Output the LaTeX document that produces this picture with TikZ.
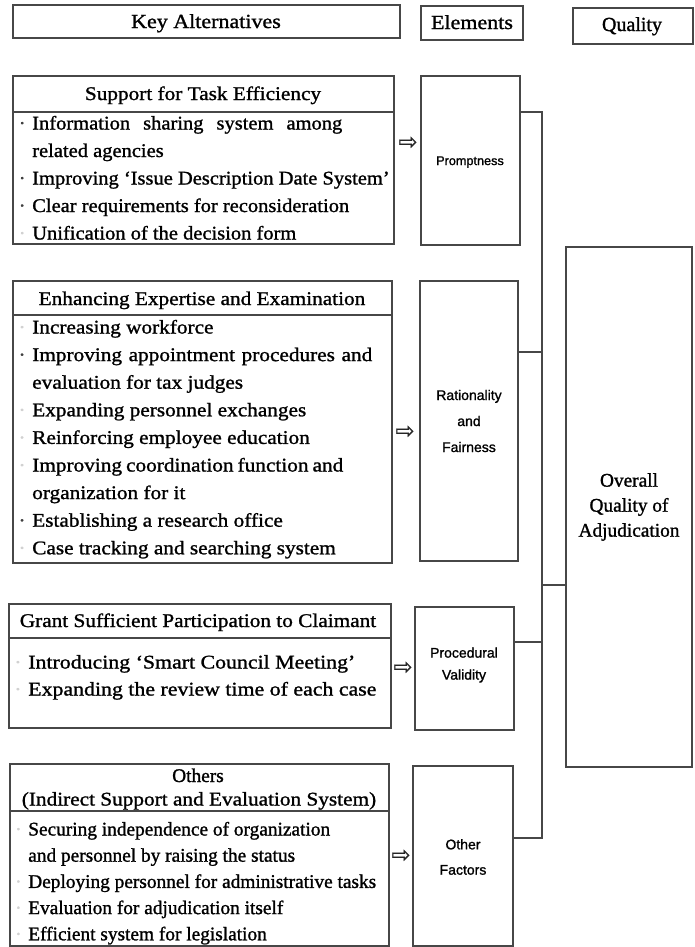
\documentclass[tikz,border=0pt]{standalone}
\usepackage{fontspec}
\setmainfont{Liberation Serif}[FakeBold=0.5]
\setsansfont{Liberation Sans}[FakeBold=0.5]
% serif faces of slightly different set widths
\newfontfamily\serN{Liberation Serif}[FakeBold=1.2,Ligatures=TeX]
\newfontfamily\serA{Liberation Serif}[FakeBold=1.2,FakeStretch=1.06,Ligatures=TeX]
\newfontfamily\serB{Liberation Serif}[FakeBold=1.2,FakeStretch=1.1,Ligatures=TeX]
\newfontfamily\serC{Liberation Serif}[FakeBold=1.2,FakeStretch=1.13,Ligatures=TeX]
\newfontfamily\heavysans{Liberation Sans}[FakeBold=1.2]
\newfontfamily\symfont{DejaVu Sans}[FakeBold=0.6]
\usetikzlibrary{fit}
% hanging bullets: dark and faint middle dots
\newcommand\bulD{\llap{\textcolor{black!75}{·}\hspace{5pt}}}
\newcommand\bulL{\llap{\textcolor{black!18}{·}\hspace{5pt}}}
% a line spread to a given width (in px of the picture)
\newcommand\spreadto[2]{\makebox[#1\dimexpr0.75pt\relax][s]{#2}}
\begin{document}
\begin{tikzpicture}[x=0.75pt,y=-0.75pt,
  box/.style={draw=black!72,line width=0.9pt,inner sep=0pt},
  hdr/.style={anchor=base,inner sep=0pt,font=#1\fontsize{15}{18}\selectfont},
  ttl/.style={anchor=base,inner sep=0pt,font=#1\fontsize{14.5}{17}\selectfont},
  item/.style={anchor=base west,inner sep=0pt,font=#1\fontsize{14.5}{17}\selectfont},
  elem/.style={align=center,inner sep=0pt,font=\heavysans\fontsize{10.5}{19.5}\selectfont},
  arr/.style={inner sep=0pt,font=\symfont\fontsize{17}{17}\selectfont,text=black!85},
  conn/.style={draw=black!72,line width=0.9pt}]
\useasboundingbox (0,0) rectangle (694,947);
\fill[white] (0,0) rectangle (694,947);

% column headers
\node[box,fit={(13,5) (400,38)}] (hk) {};
\node[hdr=\serB] (hkt) at (206,28) {Key Alternatives};
\node[box,fit={(421,6) (523,40)}] (he) {};
\node[hdr=\serB] (het) at (472,29) {Elements};
\node[box,fit={(573,8) (693,44)}] (hq) {};
\node[hdr=\serN] (hqt) at (632,31) {Quality};

% 1. support for task efficiency
\node[box,fit={(13,76) (394,244)}] (sup) {};
\node[ttl=\serB] (supt) at (203,100) {Support for Task Efficiency};
\draw[conn] (sup.west |- 0,112) -- (sup.east |- 0,112);
\foreach \t [count=\i] in {
  {\bulD\spreadto{310}{Information sharing system among}},
  {related agencies},
  {\bulD Improving `Issue Description Date System'},
  {\bulD Clear requirements for reconsideration},
  {\bulL Unification of the decision form}}
  \node[item=\serA] (s\i) at (32,{129.5+27.5*(\i-1)}) {\t};

% 2. expertise and examination
\node[box,fit={(13,281) (392,563)}] (exp) {};
\node[ttl=\serB] (expt) at (202,305) {Enhancing Expertise and Examination};
\draw[conn] (exp.west |- 0,315) -- (exp.east |- 0,315);
\foreach \t [count=\i] in {
  {\bulL Increasing workforce},
  {\bulD\spreadto{340}{Improving appointment procedures and}},
  {evaluation for tax judges},
  {\bulL Expanding personnel exchanges},
  {\bulL Reinforcing employee education},
  {\bulL\spreadto{311}{Improving coordination function and}},
  {organization for it},
  {\bulD Establishing a research office},
  {\bulL Case tracking and searching system}}
  \node[item=\serB] (e\i) at (32,{333.5+27.6*(\i-1)}) {\t};

% 3. participation of the claimant
\node[box,fit={(9,604) (391,728)}] (grt) {};
\node[ttl=\serB] (grtt) at (198,627) {Grant Sufficient Participation to Claimant};
\draw[conn] (grt.west |- 0,638) -- (grt.east |- 0,638);
\node[item=\serC] (g1) at (28,668.5) {\bulL Introducing `Smart Council Meeting'};
\node[item=\serC] (g2) at (28,695.5) {\bulL Expanding the review time of each case};

% 4. other measures
\node[box,fit={(10,764) (389,946)}] (oth) {};
\node[ttl=\serN] (otht1) at (198,782) {Others};
\node[ttl=\serB] (otht2) at (199,805.5) {(Indirect Support and Evaluation System)};
\draw[conn] (oth.west |- 0,811) -- (oth.east |- 0,811);
\foreach \t [count=\i] in {
  {\bulL Securing independence of organization},
  {and personnel by raising the status},
  {\bulL Deploying personnel for administrative tasks},
  {\bulL Evaluation for adjudication itself},
  {\bulL Efficient system for legislation}}
  \node[item=\serN] (o\i) at (28,{835.5+26.2*(\i-1)}) {\t};

% elements
\node[box,fit={(421,76) (520,245)}] (prom) {};
\node[elem,font=\heavysans\fontsize{9.5}{12}\selectfont] (promt) at (470,162) {Promptness};
\node[box,fit={(420,281) (518,561)}] (rat) {};
\node[elem] (ratt) at (469,421) {Rationality\\and\\Fairness};
\node[box,fit={(415,607) (514,730)}] (pro) {};
\node[elem,font=\heavysans\fontsize{10.5}{16.5}\selectfont] (prot) at (464,665) {Procedural\\Validity};
\node[box,fit={(413,766) (513,946)}] (ofa) {};
\node[elem,font=\heavysans\fontsize{10.5}{19}\selectfont] (ofat) at (463,857) {Other\\Factors};

% overall quality
\node[box,fit={(566,247) (692,767)}] (ovr) {};
\node[align=center,inner sep=0pt,font=\serN\fontsize{14.5}{18.75}\selectfont] (ovrt) at (629,507) {Overall\\Quality of\\Adjudication};

% white arrows from alternatives to elements
\node[arr] (a1) at (408,143) {⇨};
\node[arr] (a2) at (405,432) {⇨};
\node[arr] (a3) at (403,668) {⇨};
\node[arr] (a4) at (401,856) {⇨};

% bus joining the elements to the overall quality
\coordinate (b1) at (542,112);
\coordinate (b2) at (542,352);
\coordinate (b3) at (542,642);
\coordinate (b4) at (542,838);
\coordinate (b5) at (542,585);
\draw[conn] (prom.east |- b1) -- (b1) -- (b4) -- (ofa.east |- b4);
\draw[conn] (rat.east |- b2) -- (b2);
\draw[conn] (pro.east |- b3) -- (b3);
\draw[conn] (b5) -- (ovr.west |- b5);
\end{tikzpicture}
\end{document}
